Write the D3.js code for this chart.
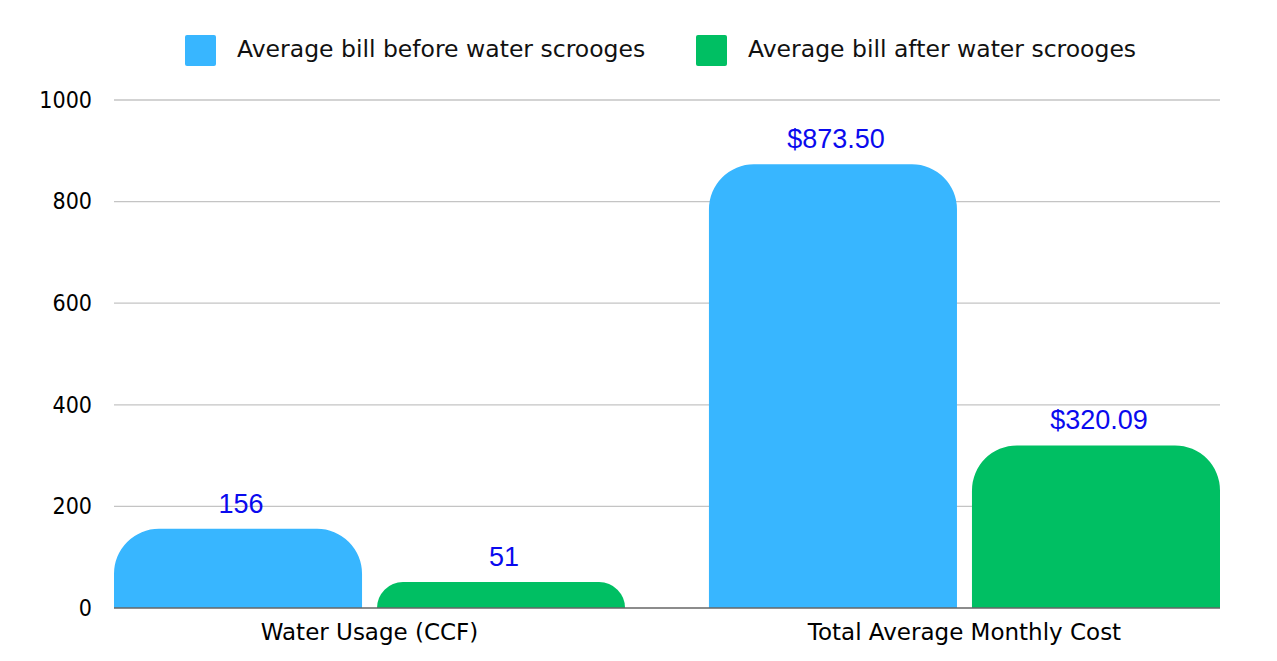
<!DOCTYPE html>
<html><head><meta charset="utf-8">
<script src="https://cdn.jsdelivr.net/npm/d3@7"></script>
<style>body{margin:0;background:#fff}</style>
</head><body>
<svg id="c" width="1277" height="661"></svg>
<script>
const categories = ["Water Usage (CCF)", "Total Average Monthly Cost"];
const seriesNames = ["Average bill before water scrooges", "Average bill after water scrooges"];
const beforeValues = [156, 873.5];
const afterValues = [51, 320.09];
const beforeLabels = ["156", "$873.50"];
const afterLabels = ["51", "$320.09"];
const yTicks = [0, 200, 400, 600, 800, 1000];
const colors = ["#38b6ff", "#00bf63"];

const svg = d3.select("#c");
const m = {left: 114, right: 57, top: 100, bottom: 53};
const W = 1277, H = 661;
const x0 = d3.scaleBand().domain(categories).range([m.left, W - m.right]).paddingInner(0.141).paddingOuter(0);
const x1 = d3.scaleBand().domain([0, 1]).range([0, x0.bandwidth()]).paddingInner(0.057).paddingOuter(0);
const y = d3.scaleLinear().domain([0, 1000]).range([H - m.bottom, m.top]);
const tickFont = "'DejaVu Sans Condensed', 'DejaVu Sans', sans-serif";
const textFont = "'DejaVu Sans', sans-serif";

// gridlines
svg.append("g").selectAll("line").data(yTicks.filter(d => d > 0)).join("line")
  .attr("x1", m.left).attr("x2", W - m.right)
  .attr("y1", d => y(d)).attr("y2", d => y(d))
  .attr("stroke", "#c4c4c4").attr("stroke-width", 1.3);

// y axis labels
const yAxis = d3.axisLeft(y).tickValues(yTicks).tickSize(0).tickPadding(22).tickFormat(d3.format("d"));
const ya = svg.append("g").attr("transform", `translate(${m.left},0)`).call(yAxis);
ya.select(".domain").remove();
ya.selectAll("text").attr("font-family", tickFont).attr("font-size", 23).attr("fill", "#000");

function topArc(xp, w, yTop, yBot, R) {
  const h = yBot - yTop;
  const r = Math.min(R, h, w / 2);
  return `M${xp},${yBot} L${xp},${yTop + r} A${r},${r} 0 0 1 ${xp + r},${yTop} L${xp + w - r},${yTop} A${r},${r} 0 0 1 ${xp + w},${yTop + r} L${xp + w},${yBot} Z`;
}

const rows = categories.map((c, i) => ({c, vals: [beforeValues[i], afterValues[i]], labs: [beforeLabels[i], afterLabels[i]]}));
const g = svg.append("g").selectAll("g").data(rows).join("g")
  .attr("transform", d => `translate(${x0(d.c)},0)`);
g.selectAll("path").data(d => d.vals.map((v, k) => ({v, k}))).join("path")
  .attr("d", d => topArc(x1(d.k), x1.bandwidth(), y(d.v), y(0), 45))
  .attr("fill", d => colors[d.k]);
g.selectAll("text").data(d => d.vals.map((v, k) => ({v, k, lab: d.labs[k]}))).join("text")
  .attr("x", d => x1(d.k) + x1.bandwidth() / 2 + 3)
  .attr("y", d => y(d.v) - 16)
  .attr("text-anchor", "middle")
  .attr("font-family", "'Liberation Sans', Arial, sans-serif")
  .attr("font-size", 27).attr("fill", "#0a0aee")
  .text(d => d.lab);

// baseline
svg.append("line").attr("x1", m.left).attr("x2", W - m.right)
  .attr("y1", y(0)).attr("y2", y(0)).attr("stroke", "#666").attr("stroke-width", 1.5);

// x axis labels
const xAxis = d3.axisBottom(x0).tickSize(0).tickPadding(16);
const xa = svg.append("g").attr("transform", `translate(0,${y(0)})`).call(xAxis);
xa.select(".domain").remove();
xa.selectAll("text").attr("font-family", textFont).attr("font-size", 23).attr("fill", "#000");

// legend
const legendX = [185, 696];
const lg = svg.append("g").selectAll("g").data(seriesNames).join("g")
  .attr("transform", (d, i) => `translate(${legendX[i]},35)`);
lg.append("rect").attr("width", 31).attr("height", 31).attr("rx", 2).attr("fill", (d, i) => colors[i]);
lg.append("text").attr("x", 52).attr("y", 22).attr("font-family", textFont)
  .attr("font-size", 23.5).attr("fill", "#111").text(d => d);
</script>
</body></html>
